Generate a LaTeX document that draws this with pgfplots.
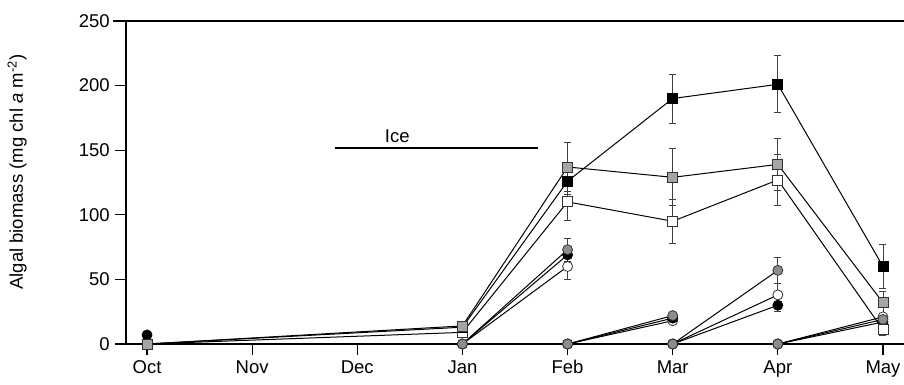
\documentclass[border=0pt]{standalone}
\usepackage{pgfplots}
\pgfplotsset{compat=1.18}
\usepackage{fontspec}
\setmainfont{Liberation Sans}
\definecolor{sqgray}{RGB}{165,165,165}
\definecolor{cigray}{RGB}{140,140,140}
\begin{document}
\fontsize{18.5}{22}\selectfont
\begin{tikzpicture}[x=1pt,y=1pt]
\begin{axis}[
  at={(126pt,41pt)}, anchor=south west,
  scale only axis, width=778pt, height=323pt,
  xmin=-0.2, xmax=7.2, ymin=0, ymax=250,
  clip=false,
  axis x line*=bottom, axis y line*=left,
  axis line style={line width=1.1pt},
  tick align=outside, major tick length=11pt,
  tick style={line width=1.1pt, black},
  xtick={0,...,7},
  xticklabels={Oct,Nov,Dec,Jan,Feb,Mar,Apr,May},
  ytick={0,50,...,250},
  /pgf/number format/assume math mode=true,
  ticklabel style={font=\fontsize{18.5}{22}\selectfont},
  yticklabel style={xshift=1pt},
  xticklabel style={yshift=1pt},
  ylabel={Algal biomass (mg chl \textit{a} m\textsuperscript{-2})},
  ylabel style={font=\fontsize{18.5}{22}\selectfont},
  every axis y label/.style={at={(axis description cs:-0.14,0.532)}, rotate=90, anchor=center},
  unbounded coords=jump,
  every axis plot/.append style={line width=1.0pt, black},
  error bars/error bar style={line width=0.9pt, black!75},
  error bars/error mark options={rotate=90, mark size=3.5pt, line width=0.9pt, black!75},
]
% top line at 250
\addplot[no marks, line width=1.1pt] coordinates {(-0.32,250) (7.2,250)};
% ice bar
\addplot[no marks, line width=1.8pt] coordinates {(1.79,152) (3.72,152)};
\node[font=\fontsize{18.5}{22}\selectfont] at (axis cs:2.38,161) {Ice};

% circles: white
\addplot[mark=*, mark size=5pt, mark options={fill=white, draw=black!80, line width=0.8pt},
  error bars/.cd, y dir=both, y explicit] coordinates {
  (3,0) +- (0,0) (4,60) +- (0,10) (4,nan)
  (4,0) +- (0,0) (5,18) +- (0,2) (5,nan)
  (5,0) +- (0,0) (6,38) +- (0,9) (6,nan)
  (6,0) +- (0,0) (7,21) +- (0,3)
};
% circles: black
\addplot[mark=*, mark size=5pt, mark options={fill=black, draw=black, line width=0.8pt},
  error bars/.cd, y dir=both, y explicit] coordinates {
  (0,7) +- (0,0)
  (0,nan)
  (3,0) +- (0,0) (4,69) +- (0,6) (4,nan)
  (4,0) +- (0,0) (5,20) +- (0,2) (5,nan)
  (5,0) +- (0,0) (6,30) +- (0,5) (6,nan)
  (6,0) +- (0,0) (7,17) +- (0,3)
};
% circles: gray
\addplot[mark=*, mark size=5pt, mark options={fill=cigray, draw=black!80, line width=0.8pt},
  error bars/.cd, y dir=both, y explicit] coordinates {
  (3,0) +- (0,0) (4,73) +- (0,9) (4,nan)
  (4,0) +- (0,0) (5,22) +- (0,2) (5,nan)
  (5,0) +- (0,0) (6,57) +- (0,10) (6,nan)
  (6,0) +- (0,0) (7,19) +- (0,3)
};
% squares: white
\addplot[mark=square*, mark size=5pt, mark options={fill=white, draw=black!80, line width=0.8pt},
  error bars/.cd, y dir=both, y explicit] coordinates {
  (0,0) +- (0,0) (3,9) +- (0,0) (4,110) +- (0,14) (5,95) +- (0,17) (6,127) +- (0,20) (7,11) +- (0,4)
};
% squares: black
\addplot[mark=square*, mark size=5pt, mark options={fill=black, draw=black, line width=0.8pt},
  error bars/.cd, y dir=both, y explicit] coordinates {
  (0,0) +- (0,0) (3,13) +- (0,0) (4,126) +- (0,10) (5,190) +- (0,19) (6,201) +- (0,22) (7,60) +- (0,17)
};
% squares: gray
\addplot[mark=square*, mark size=5pt, mark options={fill=sqgray, draw=black!80, line width=0.8pt},
  error bars/.cd, y dir=both, y explicit] coordinates {
  (0,0) +- (0,0) (3,14) +- (0,0) (4,137) +- (0,19) (5,129) +- (0,22) (6,139) +- (0,20) (7,32) +- (0,9)
};
\end{axis}
\pgfresetboundingbox
\path (0,0) rectangle (904,385);
\end{tikzpicture}
\end{document}
